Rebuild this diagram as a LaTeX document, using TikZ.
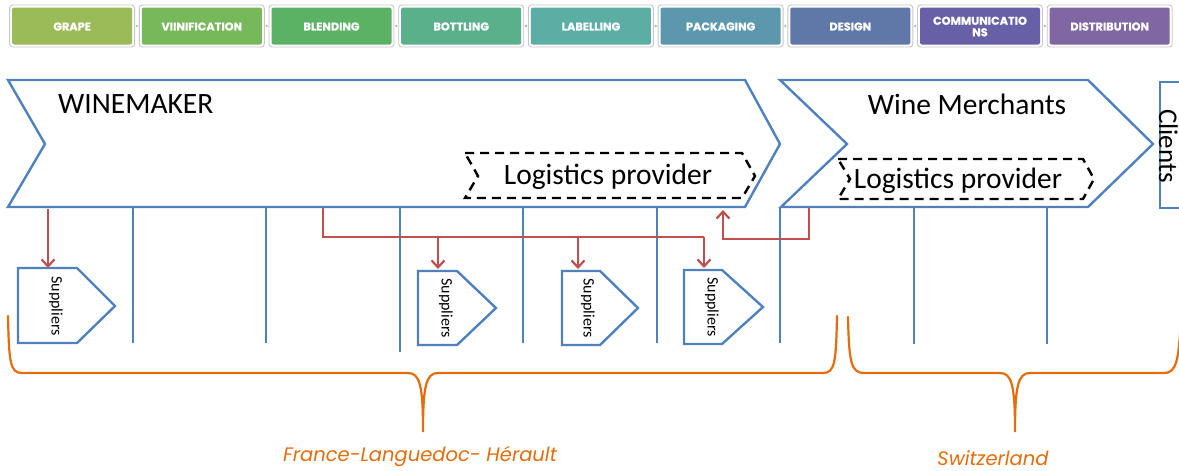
\documentclass[tikz,border=0pt]{standalone}
\usepackage{fontspec}
\setmainfont{Carlito}
\newfontfamily\geo{Poppins}[BoldFeatures={FakeBold=0.6}]
\usetikzlibrary{arrows.meta}

\definecolor{cFrame}{HTML}{4F81BD}
\definecolor{cLink}{HTML}{C0504D}
\definecolor{cRegion}{HTML}{E46C0A}
\definecolor{g1}{HTML}{9BBB59}
\definecolor{g2}{HTML}{77B85A}
\definecolor{g3}{HTML}{5BB264}
\definecolor{g4}{HTML}{5AB08B}
\definecolor{g5}{HTML}{5BAEA4}
\definecolor{g6}{HTML}{5B98AD}
\definecolor{g7}{HTML}{5F78A8}
\definecolor{g8}{HTML}{6860A6}
\definecolor{g9}{HTML}{8066A3}

\tikzset{
  stageouter/.style={draw=black!22, fill=white, line width=0.9pt, rounded corners=3pt},
  stagelabel/.style={text=white, font=\geo\bfseries\fontsize{11.3}{11.5}\selectfont, align=center, inner sep=0pt},
  chevron/.style={draw=cFrame, line width=2.4pt, line join=miter},
  divider/.style={draw=cFrame, line width=2.4pt},
  dashbox/.style={draw=black, line width=2.4pt, dash pattern=on 9pt off 6pt, line join=miter},
  bigtext/.style={font=\fontsize{29.5}{32}\selectfont, inner sep=0pt},
  supbox/.style={draw=cFrame, line width=2.4pt, line join=miter},
  suptext/.style={font=\fontsize{16}{18}\selectfont, rotate=-90, inner sep=0pt},
  redlink/.style={draw=cLink, line width=2.2pt, -{Straight Barb[length=7pt,width=13pt,line width=2.2pt]}},
  redline/.style={draw=cLink, line width=2.2pt},
  regionbrace/.style={draw=cRegion, line width=2.2pt, line cap=round},
  regiontext/.style={text=cRegion, font=\geo\itshape\fontsize{19.5}{22}\selectfont, inner sep=0pt}
}

\begin{document}
\begin{tikzpicture}[x=1pt, y=-1pt]
\useasboundingbox (0,0) rectangle (1179,471);
\clip (0,0) rectangle (1179,471);

% value-chain stages across the top
\foreach \i/\lab/\col in {0/GRAPE/g1, 1/VIINIFICATION/g2, 2/BLENDING/g3,
    3/BOTTLING/g4, 4/LABELLING/g5, 5/PACKAGING/g6, 6/DESIGN/g7,
    7/{COMMUNICATIO\\NS}/g8, 8/DISTRIBUTION/g9} {
  \pgfmathsetmacro\L{9.6+129.7*\i}
  \draw[stageouter] (\L,5) rectangle ++(125,42);
  \fill[\col, rounded corners=2pt] (\L+2.5,7.5) rectangle ++(120,37);
  \node[stagelabel] (stage\i) at (\L+62.5,26.5) {\lab};
}
\foreach \i in {0,...,7} {
  \pgfmathsetmacro\D{9.6+129.7*\i+127.3}
  \fill[black!30] (\D,26) circle (1.3pt);
}

% main chevrons
\draw[chevron] (8,80) -- (745,80) -- (780,144) -- (745,207) -- (8,207) -- (45,144) -- cycle;
\draw[chevron] (780,80) -- (1088,80) -- (1153,144) -- (1088,207) -- (781,207) -- (847,144) -- cycle;
\draw[chevron] (1160,82) rectangle (1200,208);

\node[bigtext, anchor=west] (winemaker) at (58,104) {WINEMAKER};
\node[bigtext] (merchants) at (967,104) {Wine Merchants};
\node[bigtext, font=\fontsize{27}{30}\selectfont, rotate=-90] (clients) at (1168.5,146) {Clients};

% logistics providers
\draw[dashbox] (465,153) -- (742,153) -- (755,176) -- (742,198) -- (465,198) -- (478,176) -- cycle;
\node[bigtext] (logA) at (608,177) {Logistics provider};
\draw[dashbox] (838,159) -- (1083,159) -- (1094,179) -- (1083,199) -- (838,199) -- (850,179) -- cycle;
\node[bigtext] (logB) at (958,181) {Logistics provider};

% stage dividers
\foreach \x/\yb in {133/343, 266/343, 400/352, 523/343, 657/343, 780/343, 914/344, 1047/344}
  \draw[divider] (\x,207) -- (\x,\yb);

% suppliers
\draw[supbox] (18,268) -- (77,268) -- (115,306) -- (77,343) -- (18,343) -- cycle;
\node[suptext] (sup1) at (56,306) {Suppliers};
\draw[supbox] (418,271) -- (457,271) -- (496,308) -- (457,345) -- (418,345) -- cycle;
\node[suptext] (sup2) at (446,308) {Suppliers};
\draw[supbox] (562,271) -- (600,271) -- (638,308) -- (600,345) -- (562,345) -- cycle;
\node[suptext] (sup3) at (588,308) {Suppliers};
\draw[supbox] (684,270) -- (722,270) -- (763,307) -- (722,344) -- (684,344) -- cycle;
\node[suptext] (sup4) at (712,307) {Suppliers};

% connector end points
\coordinate (wmA) at (48,209);
\coordinate (wmB) at (323,208);
\coordinate (split) at (323,237);
\coordinate (in1) at (48,268);
\coordinate (in2) at (438,269);
\coordinate (in3) at (578,269);
\coordinate (in4) at (704,268);
\coordinate (merchOut) at (809,208);
\coordinate (logIn) at (723,210);

% supply links
\draw[redlink] (wmA) -- (in1);
\draw[redline] (wmB) -- (split) -- (in4 |- split);
\draw[redlink] (in2 |- split) -- (in2);
\draw[redlink] (in3 |- split) -- (in3);
\draw[redlink] (in4 |- split) -- (in4);
\draw[redlink] (merchOut) -- (merchOut |- 0,239) -- (logIn |- 0,239) -- (logIn);

% regional braces
\draw[regionbrace] (8,316) .. controls (9,362) and (10,373) .. (22,373) -- (408,373)
  .. controls (420,373) and (423,386) .. (423,432)
  .. controls (423,386) and (426,373) .. (438,373) -- (823,373)
  .. controls (835,373) and (836,362) .. (837,316);
\draw[regionbrace] (848,317) .. controls (849,362) and (851,373) .. (864,373) -- (1000,373)
  .. controls (1012,373) and (1015,386) .. (1015,432)
  .. controls (1015,386) and (1018,373) .. (1030,373) -- (1164,373)
  .. controls (1176,373) and (1179,362) .. (1181,316);

\node[regiontext] (france) at (420,457) {France-Languedoc- Hérault};
\node[regiontext] (swiss) at (993,458) {Switzerland};
\end{tikzpicture}
\end{document}
